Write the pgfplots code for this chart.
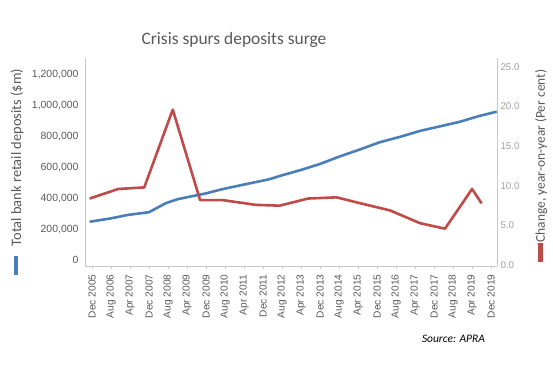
\documentclass[border=0pt]{standalone}
\usepackage{pgfplots}
\pgfplotsset{compat=1.18}
\usepackage{fontspec}
\setmainfont{Carlito}
\newfontfamily\arialf{Liberation Sans}
\definecolor{dblue}{HTML}{4A7EBB}
\definecolor{dred}{HTML}{BE4B48}
\definecolor{axgray}{HTML}{C8C8C8}
\definecolor{txgray}{HTML}{595959}
\definecolor{lgray}{HTML}{A0A0A0}

\begin{document}
\begin{tikzpicture}[x=1bp,y=1bp]
\path[use as bounding box] (-85,-121) rectangle (468,266);
\begin{axis}[
  at={(0,0)}, anchor=south west,
  scale only axis, width=412bp, height=208bp,
  xmin=-2.95, xmax=170.5,
  ymin=-39000, ymax=1310000,
  axis x line*=bottom, axis y line*=left,
  axis line style={axgray, line width=0.8bp},
  /pgf/number format/assume math mode=true,
  xtick={0,8,...,168},
  xticklabels={Dec 2005, Aug 2006, Apr 2007, Dec 2007, Aug 2008, Apr 2009, Dec 2009, Aug 2010, Apr 2011, Dec 2011, Aug 2012, Apr 2013, Dec 2013, Aug 2014, Apr 2015, Dec 2015, Aug 2016, Apr 2017, Dec 2017, Aug 2018, Apr 2019, Dec 2019},
  xticklabel style={rotate=90, anchor=east, font=\arialf\fontsize{10.2}{11}\selectfont, text=txgray},
  xticklabel shift=2bp,
  x tick style={axgray, line width=0.6bp},
  major tick length=3bp,
  tick align=outside,
  ytick={0,200000,400000,600000,800000,1000000,1200000},
  y tick style={draw=none},
  scaled y ticks=false,
  yticklabel style={font=\arialf\fontsize{10.5}{11}\selectfont, text=txgray, /pgf/number format/fixed, /pgf/number format/1000 sep={,}},
  line join=round,
]
\addplot[dblue, line width=2.6bp, mark=none] coordinates {
(-1,248000) (8,270000) (15,292000) (24,310000) (31,368000) (36,394000) (40,407000)
(48,432000) (55,460000) (63,486000) (71,512000) (75,525000) (79,545000) (88,584000)
(96,623000) (104,670000) (113,718000) (121,763000) (130,800000) (138,837000)
(146,865000) (155,897000) (163,934000) (170.4,962000)
};
\end{axis}
\begin{axis}[
  at={(0,0)}, anchor=south west,
  scale only axis, width=412bp, height=208bp,
  xmin=-2.95, xmax=170.5,
  ymin=-0.1, ymax=26.1,
  axis x line=none, axis y line*=right,
  axis line style={axgray, line width=0.8bp},
  /pgf/number format/assume math mode=true,
  ytick={0,5,10,15,20,25},
  y tick style={draw=none},
  yticklabel style={font=\arialf\fontsize{9.8}{10}\selectfont, text=lgray, /pgf/number format/fixed, /pgf/number format/fixed zerofill, /pgf/number format/precision=1},
  line join=round,
]
\addplot[dred, line width=2.6bp, mark=none] coordinates {
(-1,8.4) (11,9.6) (22,9.8) (34,19.6) (45.5,8.2) (55,8.2) (69,7.6) (79,7.5)
(91,8.4) (103,8.55) (113,7.8) (125.5,6.9) (138,5.3) (148.6,4.6) (160,9.6) (164,7.8)
};
\end{axis}
\node[text=txgray, font=\fontsize{17.5}{20}\selectfont] at (149,226) {Crisis spurs deposits surge};
\node[rotate=90, text=txgray, font=\fontsize{14.5}{16}\selectfont] at (-68,108.5)
  {Total bank retail deposits (\$m)};
\node[inner sep=0pt] at (-69,0.5) {\color{dblue}\rule{4bp}{19bp}};
\node[rotate=90, text=txgray, font=\fontsize{13.5}{15}\selectfont] at (456,110)
  {Change, year-on-year (Per cent)};
\node[inner sep=0pt] at (455.5,13.5) {\color{dred}\rule{4.5bp}{19bp}};
\node[font=\itshape\fontsize{11.5}{14}\selectfont, text=black] at (368.5,-73) {Source: APRA};
\end{tikzpicture}
\end{document}
